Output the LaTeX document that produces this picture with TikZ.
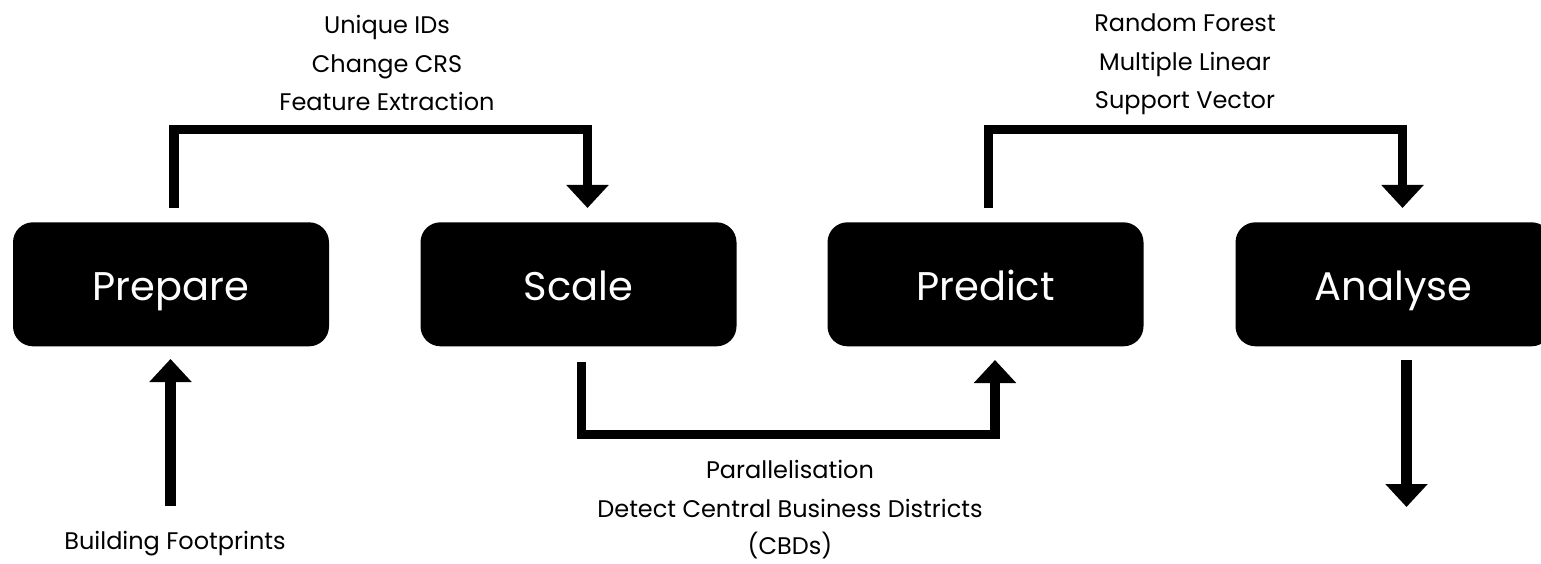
\documentclass[tikz,border=0pt]{standalone}
\usepackage{fontspec}
\setmainfont{Poppins}
\usetikzlibrary{arrows.meta}
\begin{document}
\begin{tikzpicture}[x=1pt,y=-1pt,
  stage/.style={fill=black, rounded corners=20pt, minimum width=316pt, minimum height=124pt,
    text=white, font=\fontsize{40}{48}\selectfont, text height=36pt, text depth=3pt, inner sep=0pt},
  lbl/.style={anchor=base, font=\fontsize{24}{30}\selectfont, inner sep=0pt},
  conn/.style={line width=9.5pt, line join=miter, -{Triangle[width=41pt,length=23pt]}},
  connb/.style={conn, line width=10.5pt}]
\useasboundingbox (0,0) rectangle (1541,564);
\clip (0,0) rectangle (1541,564);

% stages
\node[stage] (prepare) at (171,284.3) {Prepare};
\node[stage] (scale) at (578.5,284.3) {Scale};
\node[stage] (predict) at (985.5,284.3) {Predict};
\node[stage] (analyse) at (1393.5,284.3) {Analyse};

% labels
\node[lbl] (u1) at (387,34) {Unique IDs};
\node[lbl] (u2) at (387,73) {Change CRS};
\node[lbl] (u3) at (387,111) {Feature Extraction};
\node[lbl] (m1) at (1185,32) {Random Forest};
\node[lbl] (m2) at (1185,71) {Multiple Linear};
\node[lbl] (m3) at (1185,109) {Support Vector};
\node[lbl] (b1) at (790,478) {Parallelisation};
\node[lbl] (b2) at (790,517) {Detect Central Business Districts};
\node[lbl] (b3) at (790,554) {(CBDs)};
\node[lbl] (fp) at (175,549) {Building Footprints};

% connector ends
\coordinate (prepOut) at (174,208);
\coordinate (scaleIn) at (587.5,208);
\coordinate (scaleOut) at (581.3,362);
\coordinate (predIn) at (995,360);
\coordinate (predOut) at (988.5,208);
\coordinate (anaIn) at (1402.5,208);
\coordinate (fpTop) at (170.5,506);
\coordinate (prepIn) at (170.5,359);
\coordinate (anaOut) at (1406.5,360);
\coordinate (outEnd) at (1406.5,507);

% connectors
\draw[conn] (prepOut) -- ++(0,-78.5) -| (scaleIn);
\draw[conn] (scaleOut) -- ++(0,72.5) -| (predIn);
\draw[conn] (predOut) -- ++(0,-78.5) -| (anaIn);
\draw[connb] (fpTop) -- (prepIn);
\draw[connb] (anaOut) -- (outEnd);
\end{tikzpicture}
\end{document}
